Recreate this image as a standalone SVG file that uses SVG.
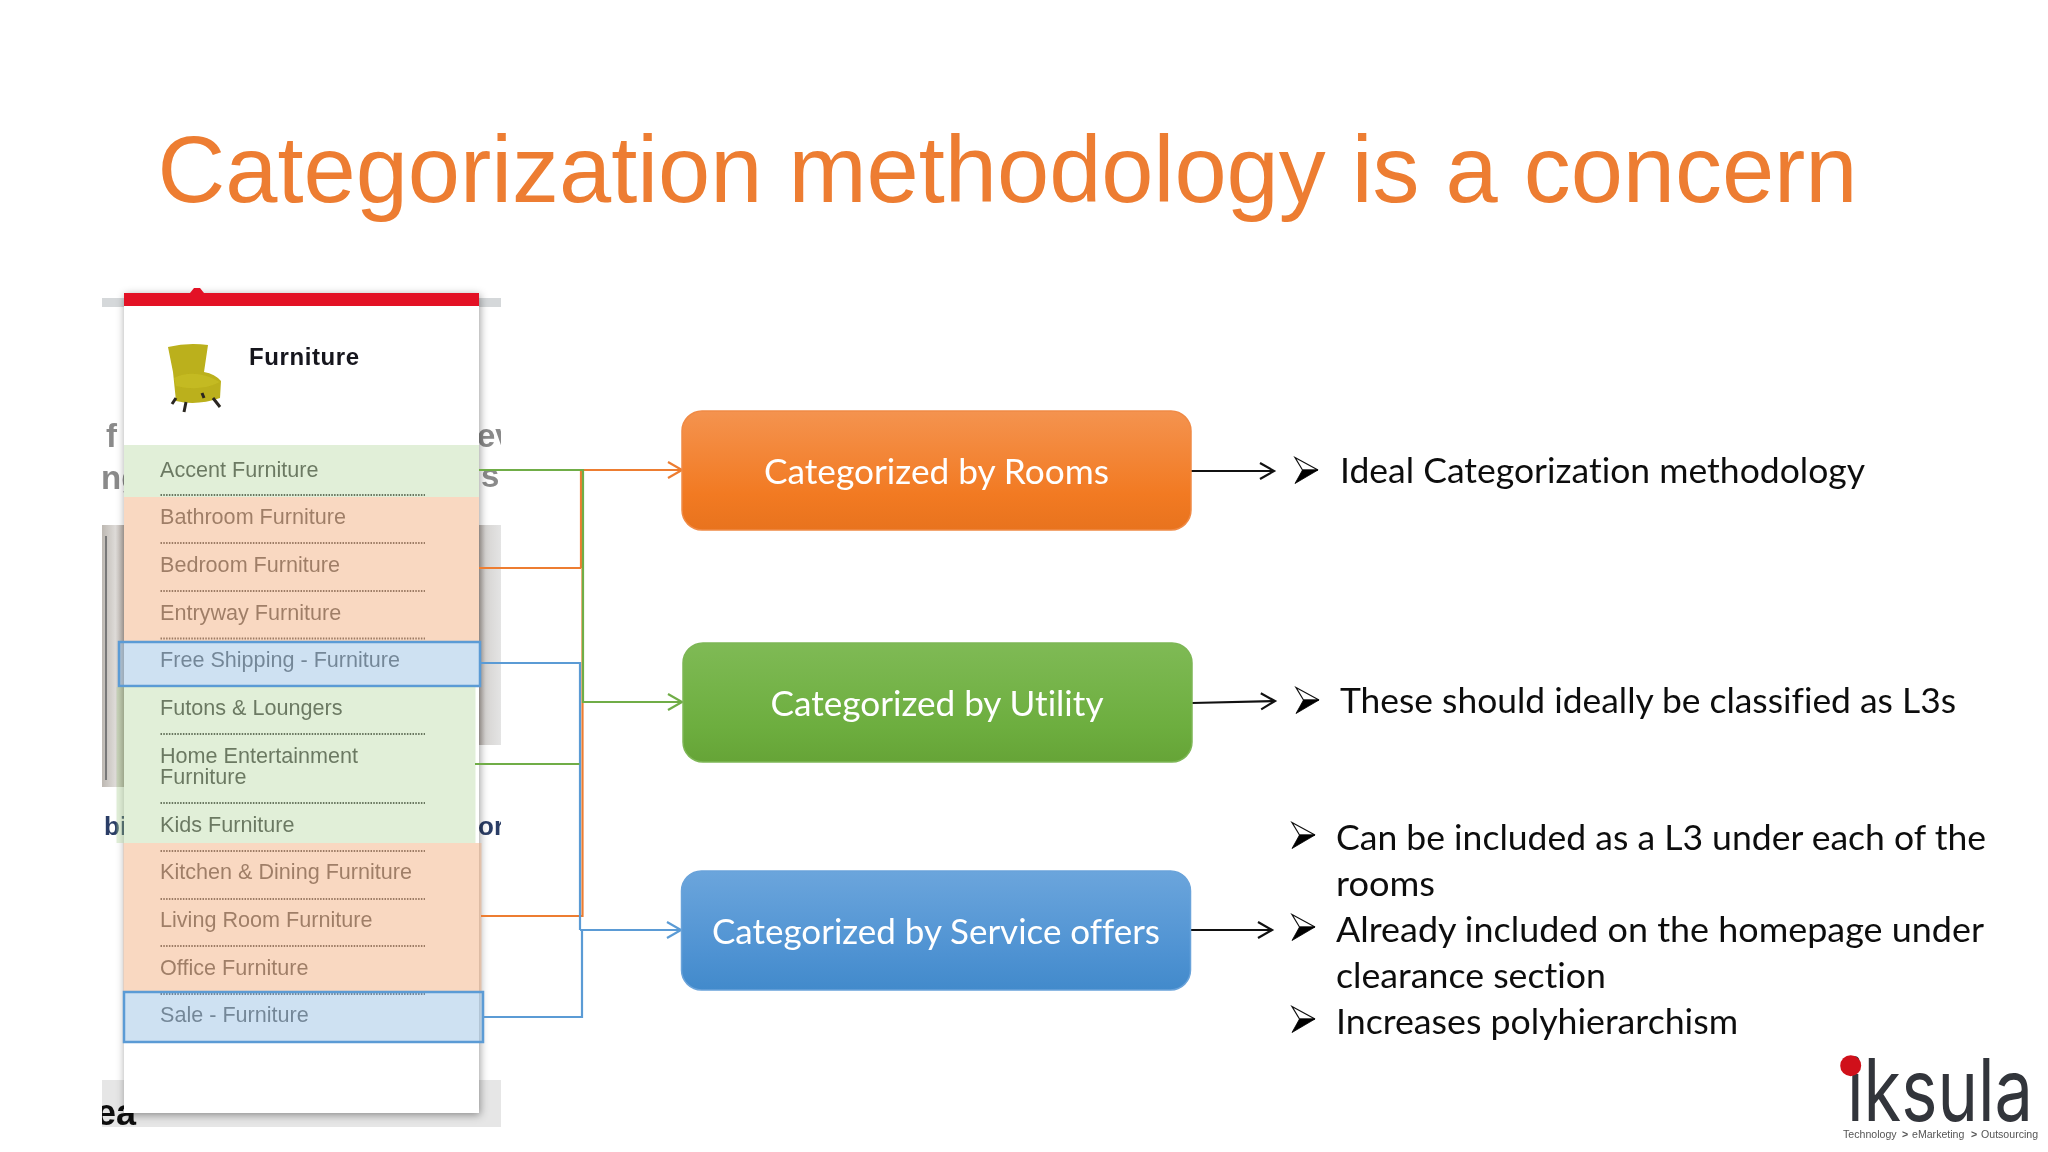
<svg xmlns="http://www.w3.org/2000/svg" width="2048" height="1152" viewBox="0 0 2048 1152">
<style>
.item{font:21.6px "Liberation Sans",Arial,sans-serif;fill:#4c4c4c}
.dots{stroke:#444;stroke-width:1.8;stroke-dasharray:1.5 1.3;fill:none}
.bg{font:bold 33px "Liberation Sans",Arial,sans-serif;fill:#8a8a8a}
.lab{font:34.5px Lato,"Noto Sans",sans-serif;fill:#fff;text-anchor:middle;font-variant-ligatures:none}
.txt{font:34.5px Lato,"Noto Sans",sans-serif;fill:#111;font-variant-ligatures:none}
.tag{font:10.6px "Liberation Sans",Arial,sans-serif;fill:#555}
.c{fill:none;stroke-width:2.2}
.o{stroke:#ED7D31}.g{stroke:#70AD47}.b{stroke:#5B9BD5}.k{stroke:#111}
.ov-g{fill:#A9D18E;fill-opacity:.35}
.ov-o{fill:#F4B183;fill-opacity:.5}
.ov-b{fill:#9DC3E6;fill-opacity:.5;stroke:#5B9BD5;stroke-width:2.5}
</style>
<defs>
<linearGradient id="go" x1="0" y1="0" x2="0" y2="1"><stop offset="0" stop-color="#F4934F"/><stop offset=".7" stop-color="#F27A22"/><stop offset="1" stop-color="#E8731E"/></linearGradient>
<linearGradient id="gg" x1="0" y1="0" x2="0" y2="1"><stop offset="0" stop-color="#7FBA55"/><stop offset=".7" stop-color="#6DAE3F"/><stop offset="1" stop-color="#66A437"/></linearGradient>
<linearGradient id="gb" x1="0" y1="0" x2="0" y2="1"><stop offset="0" stop-color="#6BA5DC"/><stop offset=".7" stop-color="#4E92D2"/><stop offset="1" stop-color="#428ACB"/></linearGradient>
<linearGradient id="gd" x1="0" y1="0" x2="1" y2="0"><stop offset="0" stop-color="#bdb8b2"/><stop offset=".45" stop-color="#dedbd8"/><stop offset="1" stop-color="#8f8077"/></linearGradient>
<linearGradient id="gr" x1="0" y1="0" x2="1" y2="0"><stop offset="0" stop-color="#a89c94"/><stop offset=".4" stop-color="#d6d4d2"/><stop offset="1" stop-color="#e4e4e4"/></linearGradient>
<filter id="sh" x="-10%" y="-5%" width="120%" height="110%"><feDropShadow dx="1" dy="2" stdDeviation="4" flood-color="#000" flood-opacity=".4"/></filter>
<filter id="soft"><feGaussianBlur stdDeviation=".45"/></filter>
<filter id="softer" x="-2%" y="-10%" width="104%" height="120%"><feGaussianBlur stdDeviation=".3"/></filter>
<clipPath id="bgclip"><rect x="102" y="280" width="399" height="850"/></clipPath>
<marker id="ao" markerWidth="20" markerHeight="20" refX="15" refY="9" orient="auto" markerUnits="userSpaceOnUse"><path d="M1 1L15 9L1 17" fill="none" stroke="#ED7D31" stroke-width="2.2"/></marker>
<marker id="ag" markerWidth="20" markerHeight="20" refX="15" refY="9" orient="auto" markerUnits="userSpaceOnUse"><path d="M1 1L15 9L1 17" fill="none" stroke="#70AD47" stroke-width="2.2"/></marker>
<marker id="ab" markerWidth="20" markerHeight="20" refX="15" refY="9" orient="auto" markerUnits="userSpaceOnUse"><path d="M1 1L15 9L1 17" fill="none" stroke="#5B9BD5" stroke-width="2.2"/></marker>
<marker id="ak" markerWidth="20" markerHeight="20" refX="15" refY="9" orient="auto" markerUnits="userSpaceOnUse"><path d="M1 1L15 9L1 17" fill="none" stroke="#111" stroke-width="2.2"/></marker>
<g id="bullet">
<path d="M0 -12.5L23 0L7.5 0Z" fill="#fff" stroke="#111" stroke-width="1.2" stroke-linejoin="miter"/>
<path d="M0 13.5L23 0L7.5 0Z" fill="#000" stroke="#000" stroke-width=".8"/>
</g>
</defs>
<rect width="2048" height="1152" fill="#fff"/>
<text id="title" x="157.5" y="202" font-family="Liberation Sans, Arial, sans-serif" font-size="94" fill="#ED7D31" textLength="1700" lengthAdjust="spacingAndGlyphs" filter="url(#softer)">Categorization methodology is a concern</text>

<g id="screenshot">
<g id="backdrop" clip-path="url(#bgclip)" filter="url(#soft)">
<rect x="102" y="298" width="399" height="9" fill="#d5d8da"/>
<rect x="102" y="525" width="30" height="262" fill="url(#gd)"/>
<path d="M106 536V780" stroke="#777" stroke-width="2"/>
<rect x="475" y="525" width="26" height="220" fill="url(#gr)"/>
<rect x="102" y="1080" width="399" height="47" fill="#e6e6e6"/>
<text class="bg" x="106" y="447">f</text>
<text class="bg" x="101" y="489">ng</text>
<text class="bg" x="477" y="447">ev</text>
<text class="bg" x="481" y="487">s</text>
<text class="bg" x="104" y="835" style="font-size:26px;fill:#2c3e66">bi</text>
<text class="bg" x="478" y="835" style="font-size:26px;fill:#2c3e66">or</text>
<text class="bg" x="96" y="1125" style="font-size:36px;fill:#111">ea</text>
</g>
<rect id="panel" x="124" y="293" width="355" height="820" fill="#fff" filter="url(#sh)"/>
<path id="redbar" d="M124 293H190L194 288H200L204 293H479V306H124Z" fill="#E31125"/>
<g id="chair" filter="url(#soft)">
<path d="M168 347Q188 342 208 345L204 372Q215 374 221 381L220 398Q197 406 176 401L173 372Z" fill="#BBB01A"/>
<path d="M174 378Q195 368 220 382Q200 392 176 386Z" fill="#C4BA22"/>
<path d="M176 398L172 404M186 402L184 412M213 398L220 407M202 393L204 398" fill="none" stroke="#2b2620" stroke-width="3"/>
</g>
<text x="249" y="365" font-family="Liberation Sans, Arial, sans-serif" font-weight="bold" font-size="24" fill="#14141e" textLength="110" filter="url(#soft)">Furniture</text>
<g id="list" filter="url(#soft)">
<text class="item" x="160" y="476.5">Accent Furniture</text>
<text class="item" x="160" y="524">Bathroom Furniture</text>
<text class="item" x="160" y="572">Bedroom Furniture</text>
<text class="item" x="160" y="619.5">Entryway Furniture</text>
<text class="item" x="160" y="667">Free Shipping - Furniture</text>
<text class="item" x="160" y="715">Futons &amp; Loungers</text>
<text class="item" x="160" y="763">Home Entertainment</text>
<text class="item" x="160" y="784">Furniture</text>
<text class="item" x="160" y="831.5">Kids Furniture</text>
<text class="item" x="160" y="879">Kitchen &amp; Dining Furniture</text>
<text class="item" x="160" y="927">Living Room Furniture</text>
<text class="item" x="160" y="975">Office Furniture</text>
<text class="item" x="160" y="1022">Sale - Furniture</text>
<path class="dots" d="M160.5 495H425M160.5 543H425M160.5 591H425M160.5 638.5H425M160.5 686H425M160.5 734H425M160.5 803H425M160.5 851H425M160.5 899H425M160.5 946H425M160.5 994H425"/>
</g>
<g id="highlights">
<rect class="ov-g" x="124" y="445" width="355" height="52"/>
<rect class="ov-o" x="124" y="497" width="355" height="144"/>
<rect class="ov-b" x="119" y="642" width="361" height="44"/>
<rect class="ov-g" x="116.5" y="687" width="359" height="156"/>
<rect class="ov-o" x="123.5" y="843" width="358" height="149"/>
<rect class="ov-b" x="124" y="992" width="359" height="50"/>
</g>
</g>

<g id="connectors">
<path class="c o" d="M479 568H581M481 916H582.5V470H682" marker-end="url(#ao)"/>
<path class="c o" d="M581 470V568"/>
<path class="c b" d="M480 663H580V930"/>
<path class="c b" d="M483 1017H582V930"/>
<path class="c b" d="M580 930H681" marker-end="url(#ab)"/>
<path class="c g" d="M475 764H579.5"/>
<path class="c g" d="M479 470H583V702H682" marker-end="url(#ag)"/>
<path class="c k" d="M1191 471H1274" marker-end="url(#ak)"/>
<path class="c k" d="M1192 703L1275 701" marker-end="url(#ak)"/>
<path class="c k" d="M1190 930H1272" marker-end="url(#ak)"/>
</g>

<g id="cat-rooms">
<rect x="682" y="411" width="509" height="119" rx="20" fill="url(#go)" stroke="#F08A45" stroke-width="1.5"/>
<text class="lab" x="936.5" y="484" textLength="345" lengthAdjust="spacingAndGlyphs" filter="url(#softer)">Categorized by Rooms</text>
</g>
<g id="cat-utility">
<rect x="683" y="643" width="509" height="119" rx="20" fill="url(#gg)" stroke="#7DB655" stroke-width="1.5"/>
<text class="lab" x="937" y="716" textLength="333" lengthAdjust="spacingAndGlyphs" filter="url(#softer)">Categorized by Utility</text>
</g>
<g id="cat-service">
<rect x="681.5" y="871" width="509" height="119" rx="20" fill="url(#gb)" stroke="#6AA3DA" stroke-width="1.5"/>
<text class="lab" x="936" y="944" textLength="448" lengthAdjust="spacingAndGlyphs" filter="url(#softer)">Categorized by Service offers</text>
</g>

<g id="notes">
<use href="#bullet" x="1295" y="470"/>
<text class="txt" x="1340" y="483" textLength="525" lengthAdjust="spacingAndGlyphs" filter="url(#softer)">Ideal Categorization methodology</text>
<use href="#bullet" x="1296" y="700"/>
<text class="txt" x="1340" y="713" textLength="616" lengthAdjust="spacingAndGlyphs" filter="url(#softer)">These should ideally be classified as L3s</text>
<use href="#bullet" x="1292" y="835"/>
<text class="txt" x="1336" y="850" textLength="650" lengthAdjust="spacingAndGlyphs" filter="url(#softer)">Can be included as a L3 under each of the</text>
<text class="txt" x="1336" y="896" textLength="99" lengthAdjust="spacingAndGlyphs" filter="url(#softer)">rooms</text>
<use href="#bullet" x="1292" y="927"/>
<text class="txt" x="1336" y="942" textLength="648" lengthAdjust="spacingAndGlyphs" filter="url(#softer)">Already included on the homepage under</text>
<text class="txt" x="1336" y="988" textLength="270" lengthAdjust="spacingAndGlyphs" filter="url(#softer)">clearance section</text>
<use href="#bullet" x="1292" y="1019"/>
<text class="txt" x="1336" y="1034" textLength="402" lengthAdjust="spacingAndGlyphs" filter="url(#softer)">Increases polyhierarchism</text>
</g>

<g id="logo">
<text x="1847" y="1120.5" font-family="Inter, Lato, sans-serif" font-size="86" font-weight="400" fill="#33343a" textLength="186" lengthAdjust="spacingAndGlyphs" filter="url(#soft)">iksula</text>
<circle cx="1850.7" cy="1065.7" r="10.5" fill="#D0101A"/>
<text class="tag" y="1138" filter="url(#soft)"><tspan x="1843">Technology</tspan><tspan x="1902" font-weight="bold">&gt;</tspan><tspan x="1912">eMarketing</tspan><tspan x="1971" font-weight="bold">&gt;</tspan><tspan x="1981">Outsourcing</tspan></text>
</g>
</svg>
